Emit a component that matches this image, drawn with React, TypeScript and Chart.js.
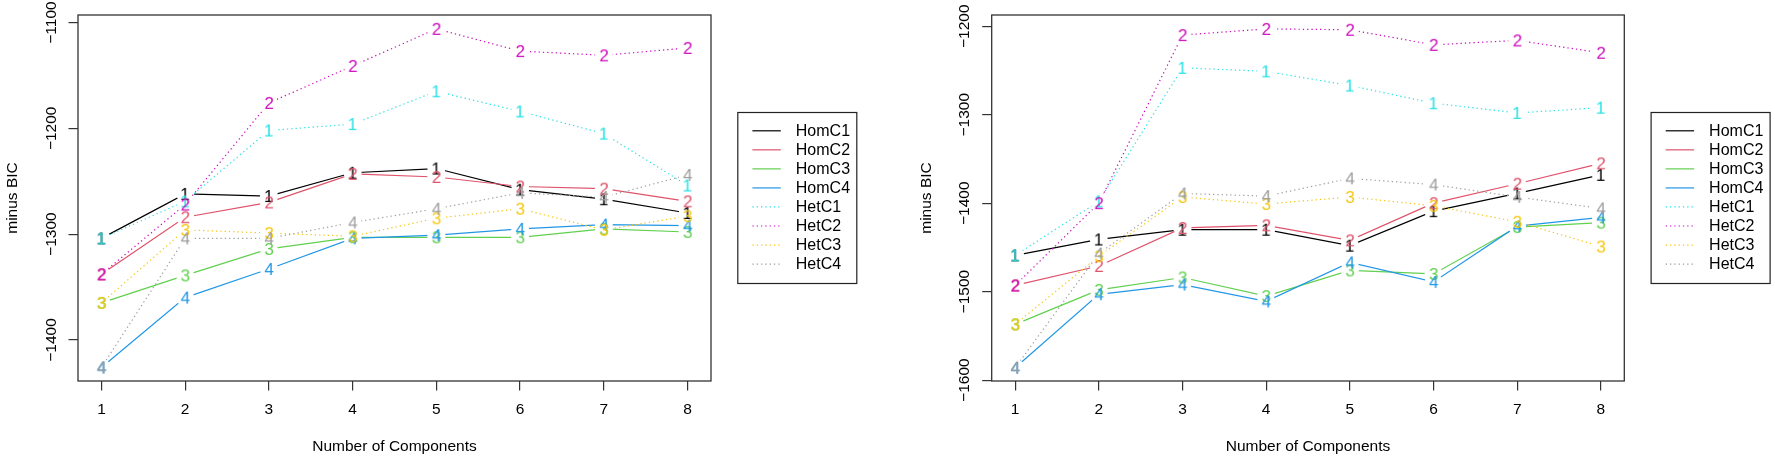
import React, { useEffect, useRef } from "react";
import { Chart, registerables } from "chart.js";

Chart.register(...registerables);

// ---------- data ----------
const components = [1, 2, 3, 4, 5, 6, 7, 8];
const seriesNames = ["HomC1", "HomC2", "HomC3", "HomC4", "HetC1", "HetC2", "HetC3", "HetC4"];
const seriesSymbols = ["1", "2", "3", "4", "1", "2", "3", "4"];
const seriesColors = ["#000000", "#DF536B", "#61D04F", "#2297E6", "#28E2E5", "#CD0BBC", "#F5C710", "#9E9E9E"];
const seriesDotted = [false, false, false, false, true, true, true, true];

// left panel (minus BIC)
const leftHomC1 = [-1304, -1262, -1264, -1242, -1238, -1258, -1267, -1280];
const leftHomC2 = [-1338, -1284, -1270, -1243, -1246, -1255, -1257, -1269];
const leftHomC3 = [-1365, -1339, -1314, -1303, -1303, -1303, -1295, -1298];
const leftHomC4 = [-1426, -1360, -1333, -1304, -1301, -1295, -1291, -1292];
const leftHetC1 = [-1304, -1269, -1202, -1196, -1165, -1184, -1205, -1254];
const leftHetC2 = [-1338, -1272, -1176, -1141, -1106, -1127, -1131, -1124];
const leftHetC3 = [-1365, -1296, -1299, -1302, -1285, -1276, -1296, -1283];
const leftHetC4 = [-1426, -1304, -1304, -1289, -1276, -1261, -1265, -1244];

// right panel (minus BIC)
const rightHomC1 = [-1459, -1441, -1430, -1430, -1448, -1409, -1389, -1368];
const rightHomC2 = [-1493, -1471, -1428, -1425, -1442, -1400, -1378, -1355];
const rightHomC3 = [-1537, -1498, -1484, -1505, -1476, -1480, -1427, -1422];
const rightHomC4 = [-1586, -1503, -1492, -1511, -1467, -1489, -1426, -1416];
const rightHetC1 = [-1459, -1398, -1247, -1251, -1267, -1287, -1298, -1292];
const rightHetC2 = [-1493, -1400, -1210, -1203, -1204, -1221, -1216, -1230];
const rightHetC3 = [-1537, -1460, -1393, -1401, -1393, -1403, -1421, -1449];
const rightHetC4 = [-1586, -1457, -1389, -1392, -1372, -1379, -1393, -1406];

const leftSeries = [leftHomC1, leftHomC2, leftHomC3, leftHomC4, leftHetC1, leftHetC2, leftHetC3, leftHetC4];
const rightSeries = [rightHomC1, rightHomC2, rightHomC3, rightHomC4, rightHetC1, rightHetC2, rightHetC3, rightHetC4];

const xAxisRange = [0.72, 8.28];
const leftYRange = [-1438.8, -1092.9];
const rightYRange = [-1601.0, -1187.3];

const xTitle = "Number of Components";
const yTitle = "minus BIC";

// ---------- styling ----------
const FONT_FAMILY = "'Liberation Sans', Arial, Helvetica, sans-serif";
const FONT_SIZE = 15.5;
const GLYPH_SIZE = 17;
const GAP_RADIUS = 9;

function makeGlyph(ch: string, color: string): HTMLCanvasElement {
  const c = document.createElement("canvas");
  c.width = 20;
  c.height = 24;
  const ctx = c.getContext("2d")!;
  ctx.font = `${GLYPH_SIZE}px ${FONT_FAMILY}`;
  ctx.fillStyle = color;
  ctx.textAlign = "center";
  ctx.textBaseline = "alphabetic";
  const m = ctx.measureText(ch);
  const x = c.width / 2 + (m.actualBoundingBoxLeft - m.actualBoundingBoxRight) / 2;
  const y = c.height / 2 + (m.actualBoundingBoxAscent - m.actualBoundingBoxDescent) / 2;
  ctx.fillText(ch, x, y);
  return c;
}

const boxPlugin = {
  id: "rbox",
  beforeDatasetsDraw(chart: any) {
    const { ctx, chartArea } = chart;
    ctx.save();
    ctx.strokeStyle = "#333";
    ctx.lineWidth = 1.3;
    ctx.strokeRect(chartArea.left, chartArea.top, chartArea.right - chartArea.left, chartArea.bottom - chartArea.top);
    ctx.restore();
  },
};

// R "type = b": the line of a series stops short of its own symbols
const gapPlugin = {
  id: "rgap",
  beforeDatasetDraw(chart: any, args: any) {
    const ds = chart.data.datasets[args.index];
    if (!ds.isLine) return;
    const ctx = chart.ctx;
    ctx.save();
    ctx.beginPath();
    ctx.rect(0, 0, chart.width, chart.height);
    for (const p of args.meta.data) {
      ctx.moveTo(p.x + GAP_RADIUS, p.y);
      ctx.arc(p.x, p.y, GAP_RADIUS, 0, Math.PI * 2, true);
    }
    ctx.clip("evenodd");
  },
  afterDatasetDraw(chart: any, args: any) {
    const ds = chart.data.datasets[args.index];
    if (!ds.isLine) return;
    chart.ctx.restore();
  },
};

const legendPlugin = {
  id: "rlegend",
  afterDraw(chart: any, _args: any, opts: any) {
    const { ctx, chartArea } = chart;
    const w = 119;
    const h = 171;
    const left = chartArea.right + opts.gap;
    const top = (chartArea.top + chartArea.bottom) / 2 - h / 2;
    ctx.save();
    ctx.strokeStyle = "#222";
    ctx.lineWidth = 1.2;
    ctx.strokeRect(left, top, w, h);
    ctx.font = `16px ${FONT_FAMILY}`;
    ctx.textBaseline = "middle";
    ctx.textAlign = "left";
    const lines = chart.data.datasets.filter((d: any) => d.isLine);
    lines.forEach((ds: any, i: number) => {
      const y = top + 18.3 + i * 19.04;
      ctx.beginPath();
      ctx.strokeStyle = ds.borderColor;
      ctx.lineWidth = 1.2;
      ctx.setLineDash(ds.borderDash || []);
      ctx.moveTo(left + 14.6, y);
      ctx.lineTo(left + 43, y);
      ctx.stroke();
      ctx.setLineDash([]);
      ctx.fillStyle = "#000";
      ctx.fillText(ds.label, left + 58, y + 0.5);
    });
    ctx.restore();
  },
};

type PanelProps = {
  series: number[][];
  yRange: number[];
  width: number;
  yAxisWidth: number;
  padRight: number;
  yTickPad: number;
  yTitlePad: number;
  left: number;
};

function Panel(props: PanelProps) {
  const ref = useRef<HTMLCanvasElement | null>(null);
  useEffect(() => {
    if (!ref.current) return;
    const font = { family: FONT_FAMILY, size: FONT_SIZE };
    const n = seriesNames.length;
    const datasets: any[] = [];
    props.series.forEach((vals, i) => {
      const pts = components.map((c, j) => ({ x: c, y: vals[j] }));
      datasets.push({
        label: seriesNames[i],
        isLine: true,
        data: pts,
        borderColor: seriesColors[i],
        backgroundColor: seriesColors[i],
        borderWidth: 1.2,
        borderDash: seriesDotted[i] ? [1.3, 3] : [],
        pointRadius: 0,
        showLine: true,
        tension: 0,
        order: 2 * (n - i),
      });
      datasets.push({
        label: seriesNames[i] + " symbols",
        isLine: false,
        data: pts,
        borderColor: seriesColors[i],
        backgroundColor: seriesColors[i],
        pointStyle: makeGlyph(seriesSymbols[i], seriesColors[i]),
        pointRadius: 6,
        showLine: false,
        order: 2 * (n - i) - 1,
      });
    });
    const chart = new Chart(ref.current, {
      type: "line",
      data: { datasets },
      options: {
        animation: false,
        responsive: false,
        devicePixelRatio: 1,
        events: [],
        layout: { padding: { left: 0, top: 15, right: props.padRight, bottom: 0 } },
        plugins: {
          legend: { display: false },
          tooltip: { enabled: false },
          rlegend: { gap: 26.8 },
        } as any,
        scales: {
          x: {
            type: "linear",
            min: xAxisRange[0],
            max: xAxisRange[1],
            afterFit: (s: any) => {
              s.height = 76;
            },
            ticks: {
              stepSize: 1,
              includeBounds: false,
              autoSkip: false,
              maxRotation: 0,
              minRotation: 0,
              padding: 10,
              color: "#000",
              font,
              callback: (v: any) => String(v),
            },
            grid: { drawOnChartArea: false, drawTicks: true, tickLength: 9.5, color: "#333", lineWidth: 1.2 },
            border: { display: false },
            title: { display: true, text: xTitle, color: "#000", font, padding: { top: 0, bottom: 0.7 } },
          },
          y: {
            type: "linear",
            min: props.yRange[0],
            max: props.yRange[1],
            afterFit: (s: any) => {
              s.width = props.yAxisWidth;
            },
            ticks: {
              stepSize: 100,
              includeBounds: false,
              autoSkip: false,
              minRotation: 90,
              maxRotation: 90,
              crossAlign: "center",
              padding: props.yTickPad,
              color: "#000",
              font,
              callback: (v: any) => String(v).replace("-", "\u2212"),
            },
            grid: { drawOnChartArea: false, drawTicks: true, tickLength: 9.5, color: "#333", lineWidth: 1.2 },
            border: { display: false },
            title: { display: true, text: yTitle, color: "#000", font, padding: { top: props.yTitlePad, bottom: 0 } },
          },
        } as any,
      },
      plugins: [boxPlugin, gapPlugin, legendPlugin],
    } as any);
    return () => chart.destroy();
  }, []);
  return (
    <canvas
      ref={ref}
      width={props.width}
      height={457}
      style={{ position: "absolute", left: props.left, top: 0, width: props.width, height: 457, display: "block" }}
    />
  );
}

export default function App() {
  return (
    <div style={{ position: "absolute", left: 0, top: 0, width: 1775, height: 457, background: "#fff", overflow: "hidden" }}>
      <Panel series={leftSeries} yRange={leftYRange} width={888} left={0} yAxisWidth={78} padRight={177} yTickPad={-5} yTitlePad={3.7} />
      <Panel series={rightSeries} yRange={rightYRange} width={887} left={888} yAxisWidth={103.7} padRight={150.7} yTickPad={-4} yTitlePad={29.4} />
    </div>
  );
}
